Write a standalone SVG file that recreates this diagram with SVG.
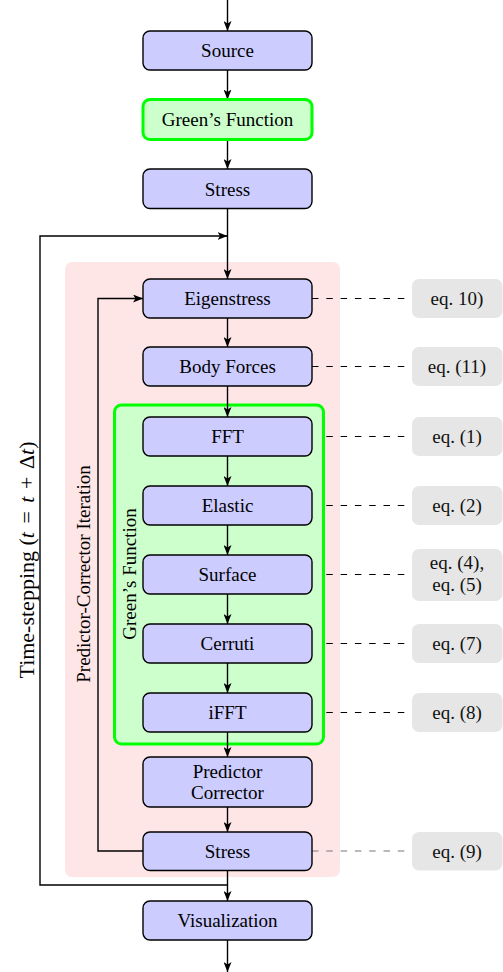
<svg xmlns="http://www.w3.org/2000/svg" width="503" height="972" viewBox="0 0 503 972">
<style>
text{font-family:"Liberation Serif","Times New Roman",serif;font-size:19px;fill:#000;text-anchor:middle}
.node{fill:#ccccff;stroke:#000;stroke-width:1.4}
.gnode{fill:#ccffcc;stroke:#00ff00;stroke-width:3}
.eq{fill:#e6e6e6;stroke:none}
.eqt{fill:#111}
.edge{fill:none;stroke:#000;stroke-width:1.4}
.dash{fill:none;stroke:#000;stroke-width:1.1;stroke-dasharray:6.5 7.8}
</style>
<defs>
<marker id="ah" viewBox="0 0 10 8" refX="10" refY="4" markerWidth="10" markerHeight="8" markerUnits="userSpaceOnUse" orient="auto">
<path d="M0,0 L10,4 L0,8 L2.5,4 z" fill="#000"/>
</marker>
</defs>
<rect id="pc-region" x="65" y="262" width="275" height="615" rx="7" fill="#ffe6e6"/>
<g id="eq-links">
<path class="dash" d="M312,298.5 H412"/>
<path class="dash" d="M312,366.5 H412"/>
<path class="dash" d="M312,436.5 H412"/>
<path class="dash" d="M312,505.5 H412"/>
<path class="dash" d="M312,574.5 H412"/>
<path class="dash" d="M312,643.5 H412"/>
<path class="dash" d="M312,712.5 H412"/>
<path class="dash" d="M312,851 H412" style="stroke:#777"/>
</g>
<g id="gf-group">
<rect class="gnode" x="114.5" y="405" width="209" height="339" rx="7"/>
<text transform="translate(136,574) rotate(-90)">Green’s Function</text>
</g>
<text transform="translate(90,574) rotate(-90)">Predictor-Corrector Iteration</text>
<text transform="translate(33.5,560) rotate(-90)" style="font-size:22px">Time-stepping (<tspan font-style="italic">t</tspan><tspan dx="3"> = </tspan><tspan font-style="italic" dx="3">t</tspan><tspan dx="2"> + </tspan><tspan dx="2">Δ</tspan><tspan font-style="italic">t</tspan>)</text>
<g id="connectors">
<path class="edge" d="M227.5,0 V31" marker-end="url(#ah)"/>
<path class="edge" d="M227.5,70 V99.5" marker-end="url(#ah)"/>
<path class="edge" d="M227.5,139.5 V169" marker-end="url(#ah)"/>
<path class="edge" d="M227.5,208 V279" marker-end="url(#ah)"/>
<path class="edge" d="M227.5,318 V347" marker-end="url(#ah)"/>
<path class="edge" d="M227.5,386 V417" marker-end="url(#ah)"/>
<path class="edge" d="M227.5,456 V486" marker-end="url(#ah)"/>
<path class="edge" d="M227.5,525 V555" marker-end="url(#ah)"/>
<path class="edge" d="M227.5,594 V624" marker-end="url(#ah)"/>
<path class="edge" d="M227.5,663 V693" marker-end="url(#ah)"/>
<path class="edge" d="M227.5,732 V757" marker-end="url(#ah)"/>
<path class="edge" d="M227.5,807 V832" marker-end="url(#ah)"/>
<path class="edge" d="M227.5,870.5 V901" marker-end="url(#ah)"/>
<path class="edge" d="M227.5,940 V972" marker-end="url(#ah)"/>
<path class="edge" d="M227.5,885 H40 V236 H227.5" marker-end="url(#ah)"/>
<path class="edge" d="M143,851 H98 V298.5 H143" marker-end="url(#ah)"/>
</g>
<g id="source"><rect class="node" x="143" y="31" width="169" height="39" rx="7"/><text x="227.5" y="57">Source</text></g>
<g id="greens-function"><rect class="gnode" x="143" y="99.5" width="169" height="40" rx="7"/><text x="227.5" y="126">Green’s Function</text></g>
<g id="stress-init"><rect class="node" x="143" y="169" width="169" height="39.5" rx="7"/><text x="227.5" y="195.5">Stress</text></g>
<g id="eigenstress"><rect class="node" x="143" y="279" width="169" height="39" rx="7"/><text x="227.5" y="305">Eigenstress</text></g>
<g id="body-forces"><rect class="node" x="143" y="347" width="169" height="39" rx="7"/><text x="227.5" y="373">Body Forces</text></g>
<g id="fft"><rect class="node" x="143" y="417" width="169" height="39" rx="7"/><text x="227.5" y="443">FFT</text></g>
<g id="elastic"><rect class="node" x="143" y="486" width="169" height="39" rx="7"/><text x="227.5" y="512">Elastic</text></g>
<g id="surface"><rect class="node" x="143" y="555" width="169" height="39" rx="7"/><text x="227.5" y="581">Surface</text></g>
<g id="cerruti"><rect class="node" x="143" y="624" width="169" height="39" rx="7"/><text x="227.5" y="650">Cerruti</text></g>
<g id="ifft"><rect class="node" x="143" y="693" width="169" height="39" rx="7"/><text x="227.5" y="719">iFFT</text></g>
<g id="predictor-corrector"><rect class="node" x="143" y="757" width="169" height="50" rx="7"/><text x="227.5" y="777.5">Predictor</text><text x="227.5" y="799">Corrector</text></g>
<g id="stress"><rect class="node" x="143" y="832" width="169" height="38.5" rx="7"/><text x="227.5" y="857.5">Stress</text></g>
<g id="visualization"><rect class="node" x="143" y="901" width="169" height="39" rx="7"/><text x="227.5" y="927">Visualization</text></g>
<g id="eq10"><rect class="eq" x="412" y="279" width="90.5" height="39" rx="7"/><text class="eqt" x="457" y="305">eq. 10)</text></g>
<g id="eq11"><rect class="eq" x="412" y="347" width="90.5" height="39" rx="7"/><text class="eqt" x="457" y="373">eq. (11)</text></g>
<g id="eq1"><rect class="eq" x="412" y="417" width="90.5" height="39" rx="7"/><text class="eqt" x="457" y="443">eq. (1)</text></g>
<g id="eq2"><rect class="eq" x="412" y="486" width="90.5" height="39" rx="7"/><text class="eqt" x="457" y="512">eq. (2)</text></g>
<g id="eq45"><rect class="eq" x="412" y="549" width="90.5" height="52" rx="7"/><text class="eqt" x="457" y="568.5">eq. (4),</text><text class="eqt" x="457" y="590.5">eq. (5)</text></g>
<g id="eq7"><rect class="eq" x="412" y="624" width="90.5" height="39" rx="7"/><text class="eqt" x="457" y="650">eq. (7)</text></g>
<g id="eq8"><rect class="eq" x="412" y="693" width="90.5" height="39" rx="7"/><text class="eqt" x="457" y="719">eq. (8)</text></g>
<g id="eq9"><rect class="eq" x="412" y="832" width="90.5" height="38.5" rx="7"/><text class="eqt" x="457" y="857.5">eq. (9)</text></g>
</svg>
